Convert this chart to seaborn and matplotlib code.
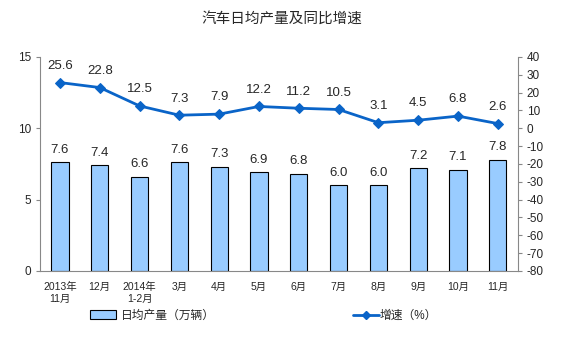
import matplotlib
matplotlib.use('Agg')
import matplotlib.pyplot as plt
import pandas as pd
import seaborn as sns
from matplotlib.patches import Patch
from matplotlib.lines import Line2D

months = ['2013年\n11月', '12月', '2014年\n1-2月', '3月', '4月', '5月',
          '6月', '7月', '8月', '9月', '10月', '11月']
daily_output = [7.6, 7.4, 6.6, 7.6, 7.3, 6.9, 6.8, 6.0, 6.0, 7.2, 7.1, 7.8]
growth = [25.6, 22.8, 12.5, 7.3, 7.9, 12.2, 11.2, 10.5, 3.1, 4.5, 6.8, 2.6]

BAR_COLOR = '#99CCFF'
LINE_COLOR = '#0a64c8'

sns.set_style('white')
plt.rcParams['font.family'] = ['Liberation Sans', 'Noto Sans CJK SC', 'DejaVu Sans']
plt.rcParams['axes.unicode_minus'] = False

df = pd.DataFrame({'month': months, 'pos': range(len(months)),
                   'output': daily_output, 'growth': growth})

fig = plt.figure(figsize=(5.64, 3.51), dpi=100)
ax = fig.add_axes([0.071, 0.228, 0.847, 0.61])

sns.barplot(data=df, x='pos', y='output', color=BAR_COLOR, edgecolor='black',
            linewidth=0.8, width=0.43, saturation=1, ax=ax)
ax.set_ylim(0, 15)
ax.set_yticks([0, 5, 10, 15])
ax.set_xlim(-0.5, len(months) - 0.5)
ax.set_xticks(range(len(months)))
ax.set_xticklabels(months, fontsize=7.5)
ax.set_xlabel('')
ax.set_ylabel('')
ax.tick_params(axis='x', length=0, pad=8)
ax.set_xticks([i + 0.5 for i in range(-1, len(months))], minor=True)
ax.tick_params(axis='x', which='minor', length=3, color='#888888', direction='out')
ax.tick_params(axis='y', labelsize=8.5, length=3, color='#888888', direction='out', left=True)
for v, x in zip(daily_output, range(len(months))):
    ax.text(x, v + 0.45, f'{v:.1f}', ha='center', va='bottom', fontsize=9.5)

ax2 = ax.twinx()
sns.lineplot(data=df, x='pos', y='growth', color=LINE_COLOR, marker='D',
             markersize=5, markeredgecolor=LINE_COLOR, linewidth=2, ax=ax2)
ax2.set_ylim(-80, 40)
ax2.set_yticks(range(-80, 41, 10))
ax2.set_ylabel('')
ax2.tick_params(axis='y', labelsize=8.5, length=3, color='#888888', direction='out', right=True)
for v, x in zip(growth, range(len(months))):
    ax2.text(x, v + 6, f'{v:.1f}', ha='center', va='bottom', fontsize=9.5)

for a in (ax, ax2):
    a.spines['top'].set_visible(False)
    for s in ('left', 'right', 'bottom'):
        a.spines[s].set_color('#888888')
        a.spines[s].set_linewidth(0.8)
ax.spines['right'].set_visible(False)
ax2.spines['left'].set_visible(False)
ax2.spines['bottom'].set_visible(False)

fig.text(0.5, 0.948, '汽车日均产量及同比增速', ha='center', va='center', fontsize=10.5)

handles1 = [Patch(facecolor=BAR_COLOR, edgecolor='black', linewidth=0.8)]
fig.legend(handles1, ['日均产量（万辆）'], loc='center', bbox_to_anchor=(0.27, 0.1),
           frameon=False, fontsize=8.5, handlelength=2.2, handleheight=0.8, handletextpad=0.4)
handles2 = [Line2D([0], [0], color=LINE_COLOR, marker='D', markersize=4, linewidth=2)]
fig.legend(handles2, ['增速（%）'], loc='center', bbox_to_anchor=(0.7, 0.1),
           frameon=False, fontsize=8.5, handlelength=2.2, handletextpad=0.1)

fig.savefig('out.png', dpi=100)
